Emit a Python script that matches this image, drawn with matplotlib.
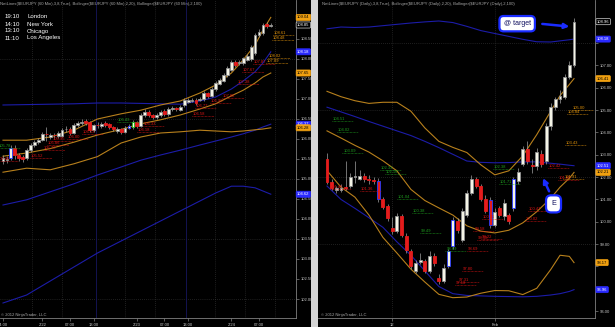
import matplotlib
matplotlib.use("Agg")
import matplotlib.pyplot as plt
from matplotlib.patches import Rectangle
import numpy as np

plt.rcParams['font.family'] = ['Liberation Sans', 'DejaVu Sans']

W, H = 615, 327  # output size in px

# ---------------- left chart: $EURJPY 60 min ----------------
left_open = [105.45, 105.48, 105.53, 105.78, 105.60, 105.55, 105.53, 105.73, 105.85, 105.93,
             105.98, 106.13, 106.05, 106.10, 106.08, 106.08, 106.24, 106.25, 106.15, 106.35,
             106.40, 106.45, 106.43, 106.22, 106.35, 106.33, 106.40, 106.37, 106.30, 106.20,
             106.25, 106.18, 106.28, 106.30, 106.42, 106.33, 106.60, 106.68, 106.60, 106.55,
             106.60, 106.70, 106.62, 106.75, 106.76, 106.73, 106.85, 106.93, 106.96, 106.98,
             106.98, 107.00, 107.15, 107.08, 107.25, 107.38, 107.45, 107.60, 107.73, 107.93,
             107.90, 107.90, 107.98, 108.00, 108.15, 108.60, 108.65, 108.87, 108.83]
left_close = [105.53, 105.50, 105.78, 105.60, 105.53, 105.50, 105.73, 105.85, 105.93, 105.98,
              106.13, 106.12, 106.10, 106.09, 106.15, 106.23, 106.25, 106.15, 106.35, 106.40,
              106.43, 106.40, 106.22, 106.35, 106.34, 106.38, 106.35, 106.30, 106.25, 106.25,
              106.18, 106.28, 106.33, 106.43, 106.33, 106.60, 106.68, 106.60, 106.55, 106.60,
              106.68, 106.62, 106.75, 106.77, 106.75, 106.80, 106.98, 106.98, 106.98, 106.90,
              107.00, 107.15, 107.08, 107.25, 107.40, 107.48, 107.60, 107.78, 107.93, 107.85,
              107.93, 108.02, 108.08, 108.30, 108.60, 108.68, 108.85, 108.82, 108.85]
left_high = [105.60, 105.58, 105.85, 105.85, 105.65, 105.60, 105.78, 105.90, 105.98, 106.03,
             106.18, 106.30, 106.15, 106.16, 106.20, 106.28, 106.33, 106.30, 106.40, 106.45,
             106.50, 106.50, 106.46, 106.38, 106.42, 106.43, 106.45, 106.40, 106.33, 106.30,
             106.28, 106.32, 106.38, 106.48, 106.46, 106.65, 106.75, 106.72, 106.63, 106.65,
             106.72, 106.74, 106.80, 106.82, 106.80, 106.85, 107.03, 107.02, 107.03, 107.02,
             107.05, 107.20, 107.18, 107.30, 107.45, 107.53, 107.65, 107.82, 107.98, 107.98,
             107.98, 108.06, 108.12, 108.34, 108.64, 108.74, 108.90, 108.92, 108.90]
left_low = [105.38, 105.40, 105.48, 105.50, 105.45, 105.42, 105.48, 105.68, 105.80, 105.88,
            105.95, 105.95, 106.00, 106.02, 106.03, 106.05, 106.18, 106.10, 106.12, 106.30,
            106.35, 106.36, 106.18, 106.18, 106.28, 106.28, 106.30, 106.26, 106.20, 106.15,
            106.12, 106.14, 106.24, 106.26, 106.28, 106.30, 106.56, 106.55, 106.50, 106.50,
            106.56, 106.58, 106.58, 106.70, 106.70, 106.70, 106.80, 106.90, 106.92, 106.85,
            106.94, 106.96, 107.03, 107.05, 107.20, 107.34, 107.42, 107.56, 107.70, 107.80,
            107.85, 107.86, 107.94, 107.96, 108.10, 108.55, 108.60, 108.78, 108.80]
left_blue_edge = [2, 32]
left_green_edge = [33]

# bollinger bands read at these bars
left_band_x = [0, 6, 12, 18, 24, 30, 35, 40, 45, 50, 54, 58, 61, 64, 66, 68]
left_bb20_up = [105.97, 105.97, 106.05, 106.22, 106.50, 106.63, 106.72, 106.85, 106.95, 107.15,
                107.35, 107.65, 107.98, 108.35, 108.72, 109.04]
left_bb20_mid = [105.57, 105.65, 105.76, 105.92, 106.10, 106.24, 106.38, 106.48, 106.60, 106.75,
                 106.88, 107.08, 107.22, 107.40, 107.55, 107.65]
left_bb20_low = [105.17, 105.27, 105.23, 105.38, 105.56, 105.90, 106.05, 106.15, 106.18, 106.22,
                 106.20, 106.18, 106.20, 106.23, 106.25, 106.28]
left_bb100_up = [106.85, 106.86, 106.87, 106.88, 106.90, 106.90, 106.89, 106.88, 106.87, 106.95,
                 107.05, 107.25, 107.45, 107.68, 107.90, 108.18]
left_bb100_mid = [104.35, 104.48, 104.68, 104.88, 105.10, 105.30, 105.47, 105.60, 105.72, 105.85,
                  105.95, 106.05, 106.13, 106.22, 106.30, 106.37]
left_bb100_low = [101.90, 102.10, 102.45, 102.80, 103.15, 103.45, 103.70, 103.95, 104.20, 104.45,
                  104.65, 104.82, 104.82, 104.78, 104.70, 104.62]

left_tick_pos = [0, 10, 17, 23, 34, 41, 47, 58, 65]
left_tick_lbl = ["14:00", "2/22", "07:00", "13:00", "2/23", "07:00", "13:00", "2/24", "07:00"]

# NetLines levels: bar where label starts, level, colour
left_net_x = [-1.3, -1.6, 6.9, 10.2, 11.2, 12.4, 16.2, 20.0, 29.0, 34.0, 35.5,
              48.0, 48.7, 52.5, 55.6, 59.4, 60.7, 63.5, 68.5, 68.3, 67.3, 66.8]
left_net_lvl = [105.78, 105.46, 105.52, 105.73, 105.86, 105.95, 106.00, 106.13, 106.43, 106.18, 106.33,
                106.58, 106.77, 106.90, 107.02, 107.38, 107.67, 107.87, 108.61, 108.48, 108.02, 107.89]
left_net_col = ["g", "r", "r", "r", "r", "r", "r", "r", "g", "r", "r",
                "r", "r", "r", "r", "r", "r", "r", "o", "o", "o", "o"]

# ---------------- right chart: $EURJPY daily ----------------
right_open = [102.82, 101.80, 101.40, 101.42, 101.55, 101.58, 102.00, 101.93, 102.07, 101.90,
              101.86, 101.84, 101.00, 100.69, 99.70, 99.58, 100.24, 99.36, 98.69, 97.80,
              98.20, 98.24, 97.80, 98.47, 97.49, 97.36, 98.02, 98.91, 100.02, 99.18,
              100.29, 101.27, 101.93, 101.58, 101.04, 100.96, 99.84, 100.60, 100.24, 100.29,
              100.60, 101.84, 102.60, 103.27, 102.55, 102.51, 103.04, 102.73, 104.30, 105.13,
              105.49, 105.58, 106.47, 107.04]
right_close = [101.80, 101.49, 101.49, 101.53, 101.53, 102.02, 102.04, 102.07, 101.93, 101.88,
               101.84, 101.00, 100.64, 100.16, 99.60, 100.24, 99.40, 98.73, 98.02, 98.16,
               98.29, 97.80, 98.47, 98.16, 97.36, 97.93, 98.69, 100.07, 99.62, 100.47,
               101.27, 101.93, 101.62, 101.04, 100.47, 99.84, 100.42, 100.29, 100.82, 100.02,
               101.93, 102.24, 103.27, 102.73, 102.51, 103.13, 102.60, 104.30, 105.13, 105.49,
               105.62, 106.47, 107.04, 108.96]
right_high = [103.10, 101.90, 101.60, 101.70, 102.70, 102.20, 102.70, 102.30, 102.20, 102.10,
              102.00, 101.95, 101.10, 100.80, 100.20, 100.40, 100.35, 99.50, 98.80, 98.30,
              98.60, 98.35, 98.70, 98.60, 97.65, 98.10, 98.80, 100.20, 100.15, 100.60,
              101.40, 102.10, 102.00, 101.70, 101.20, 101.10, 100.60, 100.70, 101.00, 100.40,
              102.00, 102.40, 103.40, 103.60, 102.80, 103.30, 103.20, 104.40, 105.30, 105.60,
              105.90, 106.60, 107.20, 109.13]
right_low = [101.70, 101.40, 101.30, 101.35, 101.40, 101.50, 101.75, 101.85, 101.80, 101.70,
             101.70, 100.90, 100.55, 100.05, 99.45, 99.50, 99.30, 98.60, 97.90, 97.70,
             98.10, 97.70, 97.70, 98.00, 97.20, 97.25, 97.95, 98.80, 99.50, 99.10,
             100.20, 101.20, 101.50, 100.95, 100.40, 99.70, 99.75, 100.20, 100.10, 99.90,
             100.50, 101.70, 102.50, 102.60, 102.20, 102.30, 102.45, 102.60, 104.10, 105.00,
             105.30, 105.50, 106.40, 106.95]
right_blue_edge = [11, 26, 27, 35, 40]
right_green_edge = []

right_band_x = [0, 3, 6, 9, 12, 15, 18, 21, 24, 27, 30, 33, 36, 39, 42, 45, 48, 50, 52, 53]
right_bb20_up = [105.84, 105.60, 105.42, 105.30, 105.35, 105.35, 104.95, 104.20, 103.60, 103.33,
                 103.10, 102.55, 102.10, 102.28, 102.95, 103.90, 104.95, 105.65, 106.15, 106.41]
right_bb20_mid = [104.07, 103.75, 103.42, 103.12, 102.73, 102.28, 101.45, 100.95, 100.62, 100.30,
                  99.82, 99.58, 99.50, 99.62, 99.95, 100.45, 101.05, 101.55, 101.95, 102.21]
right_bb20_low = [102.29, 101.55, 101.10, 100.30, 99.30, 98.60, 97.88, 97.30, 96.75, 96.60,
                  96.63, 96.80, 96.92, 96.91, 96.74, 97.02, 97.86, 98.50, 98.45, 98.17]
right_bb100_up = [108.64, 108.72, 108.70, 108.72, 108.78, 108.84, 108.90, 108.95, 108.99, 108.92,
                  108.75, 108.56, 108.43, 108.30, 108.17, 108.06, 108.05, 108.10, 108.15, 108.18]
right_bb100_mid = [105.13, 104.92, 104.71, 104.49, 104.28, 104.07, 103.86, 103.60, 103.32, 103.02,
                   102.72, 102.66, 102.64, 102.65, 102.68, 102.68, 102.62, 102.58, 102.53, 102.51]
right_bb100_low = [101.60, 101.00, 100.60, 100.18, 99.75, 99.10, 98.50, 97.80, 97.10, 96.78,
                   96.70, 96.68, 96.66, 96.65, 96.64, 96.66, 96.72, 96.78, 96.88, 96.96]

right_tick_pos = [14, 36]
right_tick_lbl = ["12", "Feb"]

right_net_x = [1.1, 2.2, 3.3, 11.4, 12.4, 15.0, 18.2, 20.0, 25.4, 35.6, 36.9,
               0.6, 7.1, 33.3, 31.4, 32.2, 30.0, 29.0, 28.1, 27.5, 47.4, 49.5, 43.1, 42.5, 33.0,
               52.5, 51.5, 51.0, 50.7]
right_net_lvl = [104.51, 104.02, 103.09, 102.33, 102.16, 101.04, 100.38, 99.49, 98.69, 102.38, 101.71,
                 101.45, 101.36, 100.11, 99.58, 99.18, 98.69, 97.80, 97.31, 97.18, 102.42, 101.89,
                 100.47, 100.02, 99.22, 105.00, 104.84, 103.43, 101.91]
right_net_col = ["g"] * 11 + ["r"] * 14 + ["o"] * 4

NET_COLORS = {"g": "#1e9a1e", "r": "#d81414", "o": "#e0920a"}
BLUE = "#1c1ca8"
ORANGE = "#b8801c"
GRID = "#3c3c3c"
TXT = "#c8c8c8"
TAG_ORANGE = "#f0a010"
TAG_BLUE = "#2a2aff"


def fig_xy(px, py):
    return px / W, 1 - py / H


def draw_candles(ax, o, c, h, l, width, blue_edge, green_edge):
    o, c, h, l = map(np.asarray, (o, c, h, l))
    x = np.arange(len(o))
    up = c >= o
    ax.vlines(x, l, h, color="#a0a0a0", lw=0.5, zorder=3)
    lo = np.minimum(o, c)
    ht = np.maximum(np.abs(c - o), 0.015)
    colors = np.where(up, "#f4f4e6", "#e41c1c")
    edges = np.where(up, "#909090", "#e41c1c").astype(object)
    for k in blue_edge:
        edges[k] = "#2a3cff"
    for k in green_edge:
        edges[k] = "#22c022"
    ax.bar(x, ht, bottom=lo, width=width, color=colors, edgecolor=list(edges),
           linewidth=0.6, zorder=4)


def draw_netlines(ax, xs, lvls, cols, span):
    for x, v, c in zip(xs, lvls, cols):
        col = NET_COLORS[c]
        ax.hlines(v, x, x + span, color=col, lw=0.5, linestyle=(0, (1, 1)), zorder=5)
        ax.text(x + 0.2, v, f"{v:.2f}", color=col, fontsize=3.0, va="bottom", ha="left",
                zorder=5, clip_on=True)


def axis_tag(ax, xfrac, value, fc, tc, ec=None):
    ax.text(xfrac, value, f"{value:.2f}", transform=ax.get_yaxis_transform(),
            fontsize=3.0, color=tc, va="center", ha="left", clip_on=False, zorder=12,
            bbox=dict(boxstyle="round,pad=0.25", fc=fc, ec=ec or fc, lw=0.5))


def style_axes(ax, xlim, ylim, yticks, xticks, xlabels, tags, gap):
    ax.set_facecolor("black")
    ax.set_xlim(*xlim)
    ax.set_ylim(*ylim)
    for s in ("left", "top"):
        ax.spines[s].set_visible(False)
    for s in ("right", "bottom"):
        ax.spines[s].set_color("#808080")
        ax.spines[s].set_linewidth(0.6)
    ax.yaxis.tick_right()
    ax.set_yticks(yticks)
    # price tags sit on top of the scale, so leave those tick labels out
    ax.set_yticklabels(["" if min(abs(v - t) for t in tags) < gap else f"{v:.2f}"
                        for v in yticks])
    ax.set_xticks(xticks)
    ax.set_xticklabels(xlabels)
    ax.tick_params(axis="both", colors="#808080", labelcolor=TXT, labelsize=3.0,
                   length=2, width=0.5, pad=1.5)


fig = plt.figure(figsize=(W / 100, H / 100), dpi=100, facecolor="black")

# ---- left panel ----
left_tags = [(left_bb20_up[-1], TAG_ORANGE, "black", None),
             (left_close[-1], "black", "white", "#d0d0d0"),
             (left_bb100_up[-1], TAG_BLUE, "white", None),
             (left_bb20_mid[-1], TAG_ORANGE, "black", None),
             (left_bb100_mid[-1], TAG_BLUE, "white", None),
             (left_bb20_low[-1], TAG_ORANGE, "black", None),
             (left_bb100_low[-1], TAG_BLUE, "white", None)]
axL = fig.add_axes([0, 9 / H, 296 / W, 318 / H])
style_axes(axL, (-0.76, 74.4), (101.525, 109.475), np.arange(102, 109.01, 0.5),
           left_tick_pos, left_tick_lbl, [t[0] for t in left_tags], 0.12)
for v in [102, 103.5, 105, 106.5, 108]:
    axL.axhline(v, color=GRID, lw=0.5, ls=(0, (1, 2)), zorder=1)
for v in [7.4, 15, 31, 38.6, 53.8, 61.4, 69]:
    axL.axvline(v, color=GRID, lw=0.5, ls=(0, (1, 2)), zorder=1)
for v in [23.6, 46.4]:
    axL.axvline(v, color="#16165e", lw=0.6, zorder=1)

for band in (left_bb100_up, left_bb100_mid, left_bb100_low):
    axL.plot(left_band_x, band, color=BLUE, lw=0.8, zorder=2)
for band in (left_bb20_up, left_bb20_mid, left_bb20_low):
    axL.plot(left_band_x, band, color=ORANGE, lw=0.8, zorder=2)
draw_candles(axL, left_open, left_close, left_high, left_low, 0.72, left_blue_edge, left_green_edge)
draw_netlines(axL, left_net_x, left_net_lvl, left_net_col, 5.5)
for v, fc, tc, ec in left_tags:
    axis_tag(axL, 1.004, v, fc, tc, ec)

# ---- right panel ----
right_tags = [(right_close[-1], "black", "white", "#d0d0d0"),
              (right_bb100_up[-1], TAG_BLUE, "white", None),
              (right_bb20_up[-1], TAG_ORANGE, "black", None),
              (right_bb100_mid[-1], TAG_BLUE, "white", None),
              (right_bb20_mid[-1], TAG_ORANGE, "black", None),
              (right_bb20_low[-1], TAG_ORANGE, "black", None),
              (right_bb100_low[-1], TAG_BLUE, "white", None)]
axR = fig.add_axes([318 / W, 9 / H, 277 / W, 318 / H])
style_axes(axR, (-1.93, 57.5), (95.69, 109.93), np.arange(96, 109.01, 1.0),
           right_tick_pos, right_tick_lbl, [t[0] for t in right_tags], 0.2)
for v in [99, 102, 105, 108]:
    axR.axhline(v, color=GRID, lw=0.5, ls=(0, (1, 2)), zorder=1)
for v in right_tick_pos:
    axR.axvline(v, color=GRID, lw=0.5, ls=(0, (1, 2)), zorder=1)

for band in (right_bb100_up, right_bb100_mid, right_bb100_low):
    axR.plot(right_band_x, band, color=BLUE, lw=0.8, zorder=2)
for band in (right_bb20_up, right_bb20_mid, right_bb20_low):
    axR.plot(right_band_x, band, color=ORANGE, lw=0.8, zorder=2)
draw_candles(axR, right_open, right_close, right_high, right_low, 0.62, right_blue_edge, right_green_edge)
draw_netlines(axR, right_net_x, right_net_lvl, right_net_col, 4.5)
for v, fc, tc, ec in right_tags:
    axis_tag(axR, 1.007, v, fc, tc, ec)

# drawn objects on the daily chart
axR.annotate("", xy=(52.6, 108.73), xytext=(45.6, 108.87),
             arrowprops=dict(arrowstyle="-|>", color="#1a2cff", lw=1.8, mutation_scale=7), zorder=8)
axR.text(40.8, 108.87, "@ target", fontsize=5.0, color="#101060", ha="center", va="center", zorder=9,
         bbox=dict(boxstyle="round,pad=0.6", fc="white", ec="#1a2cff", lw=1.6))
axR.annotate("", xy=(46.1, 102.07), xytext=(47.9, 101.25),
             arrowprops=dict(arrowstyle="-|>", color="#1a2cff", lw=1.8, mutation_scale=7), zorder=8)
axR.text(48.6, 100.8, "E", fontsize=5.2, color="#101060", ha="center", va="center", zorder=9,
         bbox=dict(boxstyle="round,pad=0.7", fc="white", ec="#1a2cff", lw=1.6))

# divider between the two charts
fig.add_artist(Rectangle((311 / W, 0), 7 / W, 1, transform=fig.transFigure,
                         fc="#d4d4d4", ec="none", zorder=20))

# titles, clock and copyright text
fig.text(*fig_xy(0, 4), "NetLines($EURJPY (60 Min),3,8,True), Bollinger($EURJPY (60 Min),2,20), "
         "Bollinger($EURJPY (60 Min),2,100)", fontsize=3.0, color="#a8a8a8", va="center")
fig.text(*fig_xy(322, 4), "NetLines($EURJPY (Daily),3,8,True), Bollinger($EURJPY (Daily),2,20), "
         "Bollinger($EURJPY (Daily),2,100)", fontsize=3.0, color="#a8a8a8", va="center")
clock_times = ["19:10", "14:10", "13:10", "11:10"]
clock_cities = ["London", "New York", "Chicago", "Los Angeles"]
for k, (t, c) in enumerate(zip(clock_times, clock_cities)):
    fig.text(*fig_xy(5, 17 + 7 * k), t, fontsize=4.4, color="white", va="center")
    fig.text(*fig_xy(27, 17 + 7 * k), c, fontsize=4.4, color="white", va="center")
fig.text(*fig_xy(1, 315), "© 2012 NinjaTrader, LLC", fontsize=3.0, color="#a8a8a8", va="center")
fig.text(*fig_xy(321, 315), "© 2012 NinjaTrader, LLC", fontsize=3.0, color="#a8a8a8", va="center")

fig.savefig("out.png", dpi=100, facecolor="black")
